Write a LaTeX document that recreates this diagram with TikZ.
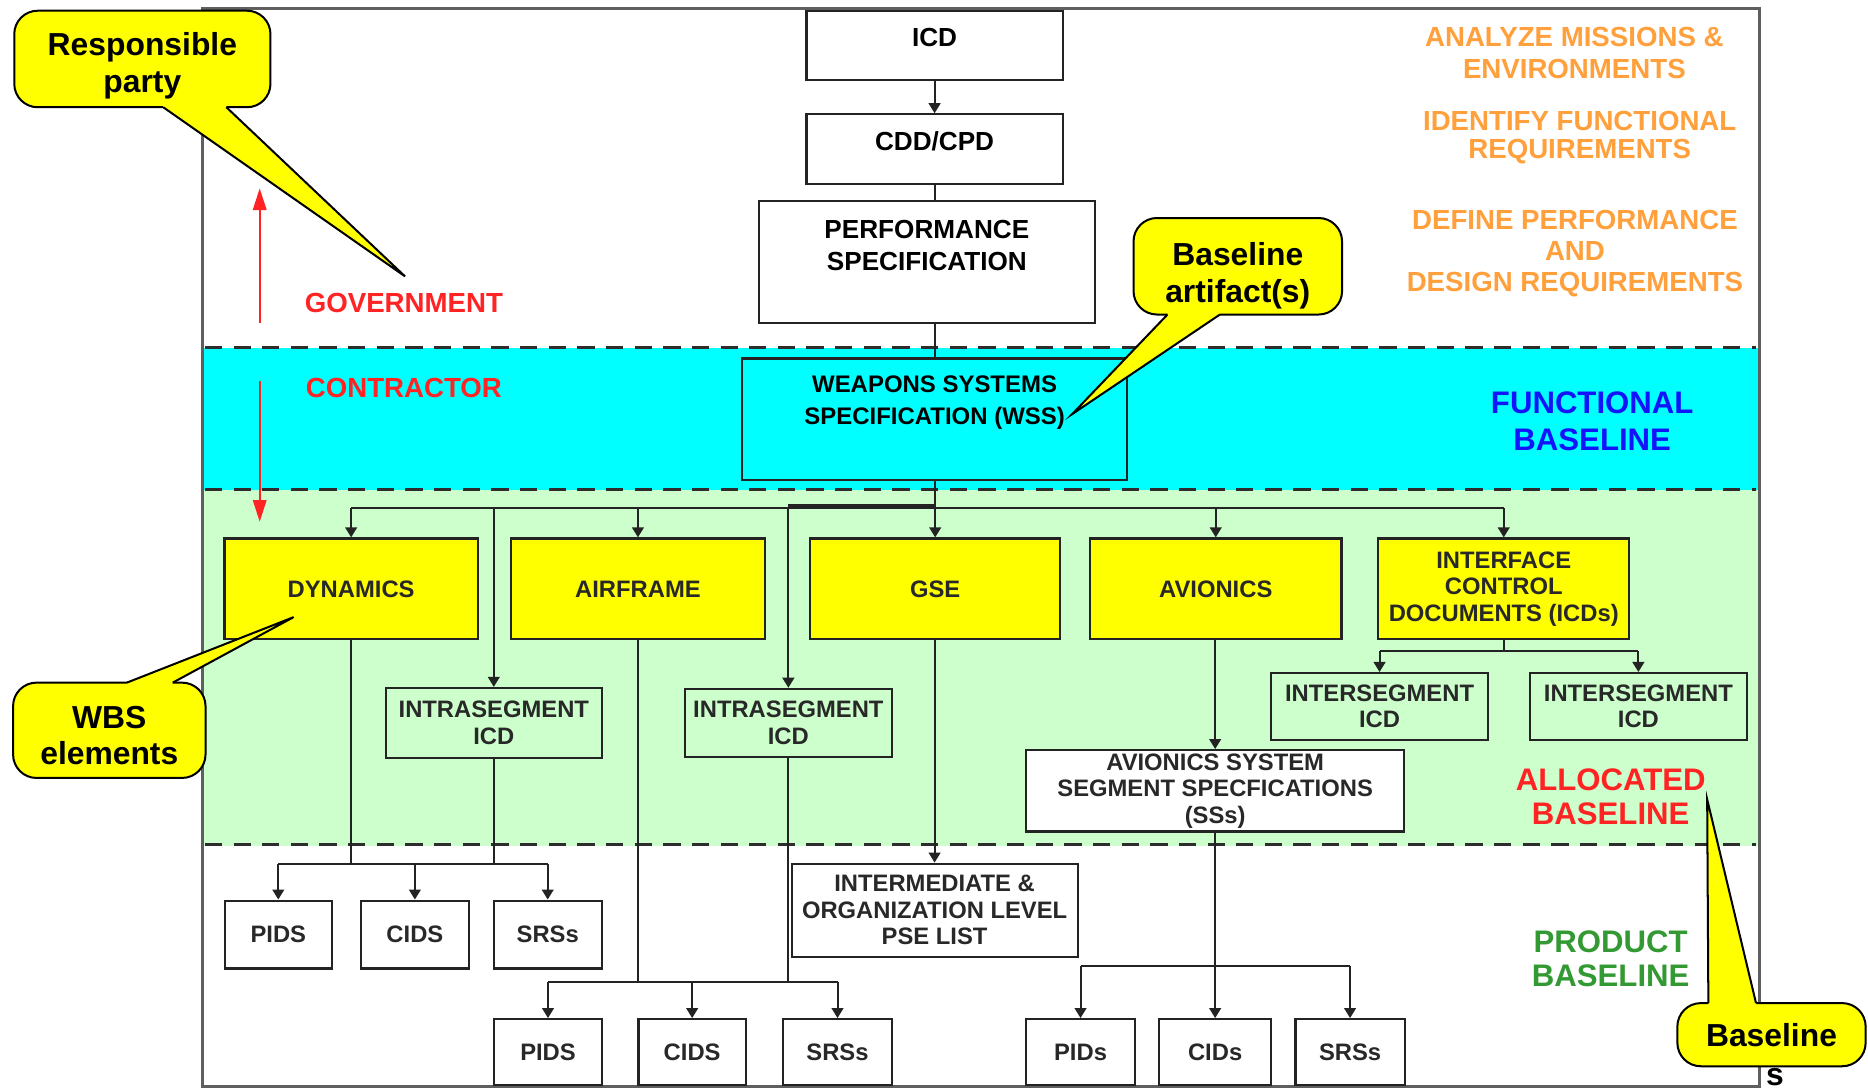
\documentclass[tikz,border=0pt]{standalone}
\usepackage{fontspec}
\setmainfont{Liberation Sans}
\usetikzlibrary{arrows.meta,positioning}

\definecolor{bandcyan}{RGB}{0,255,255}
\definecolor{bandgreen}{RGB}{204,255,204}
\definecolor{wbsyellow}{RGB}{255,255,0}
\definecolor{boxline}{RGB}{35,35,35}
\definecolor{boxtext}{RGB}{40,40,40}
\definecolor{dashgray}{RGB}{45,45,45}
\definecolor{framegray}{RGB}{95,95,95}
\definecolor{govred}{RGB}{255,35,35}
\definecolor{steporange}{RGB}{255,160,60}
\definecolor{funcblue}{RGB}{20,20,250}
\definecolor{prodgreen}{RGB}{51,153,51}

\newcommand{\pxu}{0.7113pt}
\newcommand{\fcall}{\bfseries\fontsize{19}{21.8}\selectfont}
\newcommand{\ftop}{\bfseries\fontsize{15.6}{19.2}\selectfont}
\newcommand{\fwss}{\bfseries\fontsize{14.3}{19.2}\selectfont}
\newcommand{\fwbs}{\bfseries\fontsize{14.2}{15.8}\selectfont}
\newcommand{\flabel}{\bfseries\fontsize{16.5}{18.5}\selectfont}
\newcommand{\fbase}{\bfseries\fontsize{18.6}{20.5}\selectfont}

\tikzset{
  sz/.style 2 args={minimum width=#1*\pxu, minimum height=#2*\pxu},
  box/.style={draw=boxline, line width=1.3pt, inner sep=0pt, align=center, font=\fwbs, text=boxtext},
  topbox/.style={box, fill=white, font=\ftop, text=black},
  wbsbox/.style={box, fill=wbsyellow},
  grnbox/.style={box, fill=bandgreen},
  whtbox/.style={box, fill=white},
  conn/.style={draw=boxline, line width=1.2pt},
  arr/.style={conn, -{Triangle[length=6pt,width=7pt]}},
  redarrow/.style={draw=govred, line width=1.3pt, -{Triangle[length=13pt,width=8pt]}},
  bandline/.style={draw=dashgray, line width=1.8pt, dash pattern=on 10.3pt off 6.8pt},
  outerframe/.style={draw=framegray, line width=2pt},
  bubble/.style={fill=wbsyellow, draw=black, line width=1.2pt, rounded corners=14pt,
    inner sep=0pt, align=center, font=\fcall, text=black},
  bubbleline/.style={draw=black, line width=1.2pt, line join=miter},
  lbl/.style={font=\flabel, align=center, inner sep=0pt},
  basetxt/.style={font=\fbase, align=center, inner sep=0pt},
}

\begin{document}
\begin{tikzpicture}[x=0.025cm,y=-0.025cm]
\useasboundingbox (0,0) rectangle (1568,915);

% baseline bands
\fill[bandcyan] (170,292) rectangle (1476,411);
\fill[bandgreen] (170,411) rectangle (1476,710);
\draw[bandline] (172,292) -- (1474,292);
\draw[bandline] (172,411) -- (1474,411);
\draw[bandline] (172,709) -- (1474,709);
\draw[outerframe] (170,7) rectangle (1477,912);

% government documents
\node[topbox, sz={215}{58}, text height=1.3pt] (icd) at (784.5,38) {ICD};
\node[topbox, sz={215}{58.5}, text height=2.3pt] (cdd) at (784.5,125.25) {CDD/CPD};
\node[topbox, sz={282}{102}, text height=9.8pt, text depth=0pt] (perf) at (778,220) {PERFORMANCE\\SPECIFICATION};
\node[topbox, fill=bandcyan, font=\fwss, sz={323}{102}, text height=6pt, text depth=0pt] (wss) at (784.5,352) {WEAPONS SYSTEMS\\SPECIFICATION (WSS)};

% WBS elements
\node[wbsbox, sz={212.5}{84.5}] (dyn) at (294.75,494.25) {DYNAMICS};
\node[wbsbox, sz={213}{84.5}] (air) at (535.5,494.25) {AIRFRAME};
\node[wbsbox, sz={210}{84.5}] (gse) at (785,494.25) {GSE};
\node[wbsbox, sz={211}{84.5}] (avi) at (1020.5,494.25) {AVIONICS};
\node[wbsbox, sz={210.5}{84.5}] (icds) at (1262.25,494.25) {INTERFACE\\CONTROL\\DOCUMENTS (ICDs)};

% allocated level
\node[grnbox, sz={181}{58.5}] (intra1) at (414.5,606.75) {INTRASEGMENT\\ICD};
\node[grnbox, sz={173.5}{57}] (intra2) at (661.75,606.75) {INTRASEGMENT\\ICD};
\node[grnbox, sz={182}{56}] (inter1) at (1158,593) {INTERSEGMENT\\ICD};
\node[grnbox, sz={182.5}{56}] (inter2) at (1375.25,593) {INTERSEGMENT\\ICD};
\node[whtbox, sz={317}{68.3}] (sss) at (1020,663.85) {AVIONICS SYSTEM\\SEGMENT SPECFICATIONS\\(SSs)};

% product level
\node[whtbox, sz={240}{78}] (pse) at (784.5,764) {INTERMEDIATE \&\\ORGANIZATION LEVEL\\PSE LIST};
\node[whtbox, sz={90}{57}] (pidsl) at (233.6,784.5) {PIDS};
\node[whtbox, sz={90.5}{57}] (cidsl) at (348.25,784.5) {CIDS};
\node[whtbox, sz={90.5}{57}] (srsl) at (459.75,784.5) {SRSs};
\node[whtbox, sz={90}{55.3}] (pidsm) at (460,883.15) {PIDS};
\node[whtbox, sz={90}{55.3}] (cidsm) at (581,883.15) {CIDS};
\node[whtbox, sz={91}{55.3}] (srsm) at (703,883.15) {SRSs};
\node[whtbox, sz={92}{55.3}] (pidsr) at (907,883.15) {PIDs};
\node[whtbox, sz={94}{55.3}] (cidsr) at (1020,883.15) {CIDs};
\node[whtbox, sz={91.5}{55.3}] (srsr) at (1133.25,883.15) {SRSs};

% side labels
\node[lbl, text=govred] (gov) at (339,254) {GOVERNMENT};
\node[lbl, text=govred] (con) at (339,326) {CONTRACTOR};
\node[lbl, text=steporange] (analyze) at (1321.5,44.5) {ANALYZE MISSIONS \&\\[0.7pt]ENVIRONMENTS};
\node[lbl, text=steporange] (identify) at (1326,115.3) {IDENTIFY FUNCTIONAL\\[-1.9pt]REQUIREMENTS};
\node[lbl, text=steporange] (define) at (1322,213) {DEFINE PERFORMANCE\\AND\\DESIGN REQUIREMENTS};
\node[basetxt, text=funcblue] (funcb) at (1336.5,353.75) {FUNCTIONAL\\[1.2pt]BASELINE};
\node[basetxt, text=govred] (allocb) at (1352,669) {ALLOCATED\\BASELINE};
\node[basetxt, text=prodgreen] (prodb) at (1352,805) {PRODUCT\\BASELINE};

% top chain
\draw[arr] (icd) -- (cdd);
\draw[conn] (cdd.south) -- (cdd.south |- perf.north);
\draw[conn] (wss.north |- perf.south) -- (wss.north);

% main bus
\coordinate (busmain) at (785,426);
\draw[conn] (wss.south) -- (wss.south |- busmain);
\draw[conn] (dyn.north |- busmain) -- (icds.north |- busmain);
\draw[conn, line width=2.6pt] ([yshift=0.6pt]intra2.north |- busmain) -- ([yshift=0.6pt]wss.south |- busmain);
\draw[arr] (dyn.north |- busmain) -- (dyn.north);
\draw[arr] (intra1.north |- busmain) -- (intra1.north);
\draw[arr] (air.north |- busmain) -- (air.north);
\draw[arr] (intra2.north |- busmain) -- (intra2.north);
\draw[arr] (gse.north |- busmain) -- (gse.north);
\draw[arr] (avi.north |- busmain) -- (avi.north);
\draw[arr] (icds.north |- busmain) -- (icds.north);

% interface control documents
\coordinate (busicd) at (1262.25,546.5);
\draw[conn] (icds.south) -- (icds.south |- busicd);
\draw[conn] (inter1.north |- busicd) -- (inter2.north |- busicd);
\draw[arr] (inter1.north |- busicd) -- (inter1.north);
\draw[arr] (inter2.north |- busicd) -- (inter2.north);

% avionics
\draw[arr] (sss.north |- avi.south) -- (sss.north);
\coordinate (busav) at (1020,810.7);
\draw[conn] (sss.south) -- (sss.south |- busav);
\draw[conn] (pidsr.north |- busav) -- (srsr.north |- busav);
\draw[arr] (pidsr.north |- busav) -- (pidsr.north);
\draw[arr] (cidsr.north |- busav) -- (cidsr.north);
\draw[arr] (srsr.north |- busav) -- (srsr.north);

% gse
\draw[arr] (pse.north |- gse.south) -- (pse.north);

% dynamics
\coordinate (busdyn) at (295,725.5);
\draw[conn] (dyn.south) -- (dyn.south |- busdyn);
\draw[conn] (intra1.south) -- (intra1.south |- busdyn);
\draw[conn] (pidsl.north |- busdyn) -- (srsl.north |- busdyn);
\draw[arr] (pidsl.north |- busdyn) -- (pidsl.north);
\draw[arr] (cidsl.north |- busdyn) -- (cidsl.north);
\draw[arr] (srsl.north |- busdyn) -- (srsl.north);

% airframe
\coordinate (busair) at (536,824);
\draw[conn] (air.south) -- (air.south |- busair);
\draw[conn] (intra2.south) -- (intra2.south |- busair);
\draw[conn] (pidsm.north |- busair) -- (srsm.north |- busair);
\draw[arr] (pidsm.north |- busair) -- (pidsm.north);
\draw[arr] (cidsm.north |- busair) -- (cidsm.north);
\draw[arr] (srsm.north |- busair) -- (srsm.north);

% responsibility arrows
\coordinate (govfoot) at (218,271);
\coordinate (govtip) at (218,158);
\coordinate (confoot) at (218,320);
\coordinate (contip) at (218,438);
\draw[redarrow] (govfoot) -- (govtip);
\draw[redarrow] (confoot) -- (contip);

% callouts
\node[bubble, sz={215}{81}, text height=39.5pt, text depth=0pt] (resp) at (119.5,49.5) {Responsible\\party};
\coordinate (resptip) at (340,232);
\fill[wbsyellow] (137,84) -- (137,90) -- (resptip) -- (190,90) -- (190,84) -- cycle;
\draw[bubbleline] (137,90) -- (resptip) -- (190,90);

\node[bubble, sz={175}{81}, text height=43pt, text depth=0pt] (art) at (1039,223.5) {Baseline\\artifact(s)};
\coordinate (arttip) at (900,347.6);
\fill[wbsyellow] (980,258) -- (980,264) -- (arttip) -- (1024,264) -- (1024,258) -- cycle;
\draw[bubbleline] (980,264) -- (arttip) -- (1024,264);

\node[bubble, sz={161.5}{80}, text height=41.3pt, text depth=0pt] (wbs) at (91.75,613) {WBS\\elements};
\coordinate (wbstip) at (246.5,518);
\fill[wbsyellow] (106.5,579) -- (106.5,573) -- (wbstip) -- (145,573) -- (145,579) -- cycle;
\draw[bubbleline] (106.5,573) -- (wbstip) -- (145,573);

\node[bubble, sz={158}{53}] (basel) at (1487,868.5) {Baseline};
\coordinate (baseltip) at (1433,671);
\fill[wbsyellow] (1434,848) -- (1434,842) -- (baseltip) -- (1474,842) -- (1474,848) -- cycle;
\draw[bubbleline] (1434,842) -- (baseltip) -- (1474,842);
\node[font=\fcall, anchor=base, inner sep=0pt] (bases) at (1490,911) {s};
\end{tikzpicture}
\end{document}
